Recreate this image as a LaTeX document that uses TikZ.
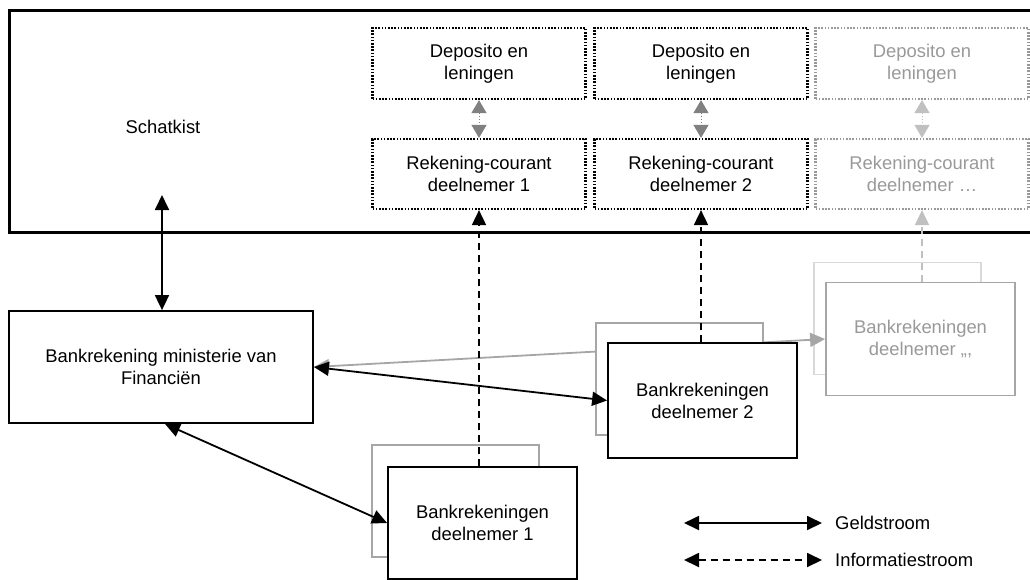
\documentclass[tikz,border=0pt]{standalone}
\usepackage{fontspec}
\setmainfont{Liberation Sans}
\usetikzlibrary{arrows.meta}
\definecolor{gA}{HTML}{999999}
\definecolor{gB}{HTML}{A6A6A6}
\definecolor{gC}{HTML}{D9D9D9}
\definecolor{gD}{HTML}{808080}
\definecolor{gE}{HTML}{C0C0C0}
\newcommand\dfont{\fontsize{18.4}{22}\selectfont}
\begin{document}
\begin{tikzpicture}[x=1pt,y=-1pt,
  txt/.style={font=\dfont, align=center, inner sep=0pt},
  dotbox/.style={txt, draw, line width=2.2pt, dash pattern=on 1.6pt off 1.6pt, minimum width=213pt},
  shadow/.style={draw=gB, line width=1.8pt, fill=white, minimum width=167pt, minimum height=112pt, inner sep=0pt},
  mainbox/.style={txt, draw, line width=1.8pt, fill=white, minimum width=189pt},
  tip/.style={-{Triangle[length=15pt,width=14pt]}},
  both/.style={{Triangle[length=15pt,width=14pt]}-{Triangle[length=15pt,width=14pt]}},
  money/.style={both, line width=1.8pt},
  info/.style={tip, line width=1.8pt, dash pattern=on 7pt off 5pt},
  small/.style={{Triangle[length=13pt,width=15pt]}-{Triangle[length=13pt,width=15pt]}, line width=1pt, dotted}
]
\useasboundingbox (0,0) rectangle (1030,579);
% Schatkist
\node[draw, line width=3pt, minimum width=1031pt, minimum height=222pt, inner sep=0pt] (sk) at (524.5,121) {};
\node[txt] (sklabel) at (163,127) {Schatkist};
% dotted boxes
\node[dotbox, minimum height=71pt] (dep1) at (479,63.5) {Deposito en\\leningen};
\node[dotbox, minimum height=71pt] (dep2) at (701,63.5) {Deposito en\\leningen};
\node[dotbox, minimum height=71pt, draw=gA, text=gA] (dep3) at (922,63.5) {Deposito en\\leningen};
\node[dotbox, minimum height=70pt] (rek1) at (479,174) {Rekening-courant\\deelnemer 1};
\node[dotbox, minimum height=70pt] (rek2) at (701,174) {Rekening-courant\\deelnemer 2};
\node[dotbox, minimum height=70pt, draw=gA, text=gA] (rek3) at (922,174) {Rekening-courant\\deelnemer \dots};
\draw[small, gD] (dep1) -- (rek1);
\draw[small, gD] (dep2) -- (rek2);
\draw[small, gE] (dep3) -- (rek3);
% ministry
\node[mainbox, minimum width=304pt, minimum height=112pt] (m) at (161,367) {Bankrekening ministerie van\\Financiën};
\coordinate (skin) at (162,195);
\draw[money] (m.north -| skin) -- (skin);
% third participant (grey)
\node[shadow, draw=gC] (sh3) at (897.5,318.5) {};
\node[mainbox, minimum height=113pt, draw=gB, text=gA] (d3) at (920.5,339) {Bankrekeningen\\deelnemer ,,,};
\draw[both, gB, line width=1.8pt] (m.east) -- (d3.west);
% participant shadows
\node[shadow] (sh2) at (679.5,379) {};
\node[shadow] (sh1) at (455.5,501) {};
% participant boxes
\node[mainbox, minimum height=115pt] (d2) at (702.5,400.5) {Bankrekeningen\\deelnemer 2};
\node[mainbox, minimum height=112pt] (d1) at (482.5,523) {Bankrekeningen\\deelnemer 1};
\draw[money] (m.east) -- (d2.west);
\draw[money] ([xshift=4pt]m.south) -- (d1.west);
% information flows
\draw[info] (rek1.south |- d1.north) -- (rek1.south);
\draw[info] (rek2.south |- d2.north) -- (rek2.south);
\draw[info, gE] (rek3.south |- d3.north) -- (rek3.south);
% legend
\coordinate (g1) at (684,523);
\coordinate (g2) at (822,523);
\coordinate (i1) at (684,560);
\coordinate (i2) at (822,560);
\draw[money] (g1) -- (g2);
\draw[both, line width=1.8pt, dash pattern=on 7pt off 5pt] (i1) -- (i2);
\node[txt, anchor=west] (gl) at (835,523) {Geldstroom};
\node[txt, anchor=west] (il) at (835,560) {Informatiestroom};
\end{tikzpicture}
\end{document}
